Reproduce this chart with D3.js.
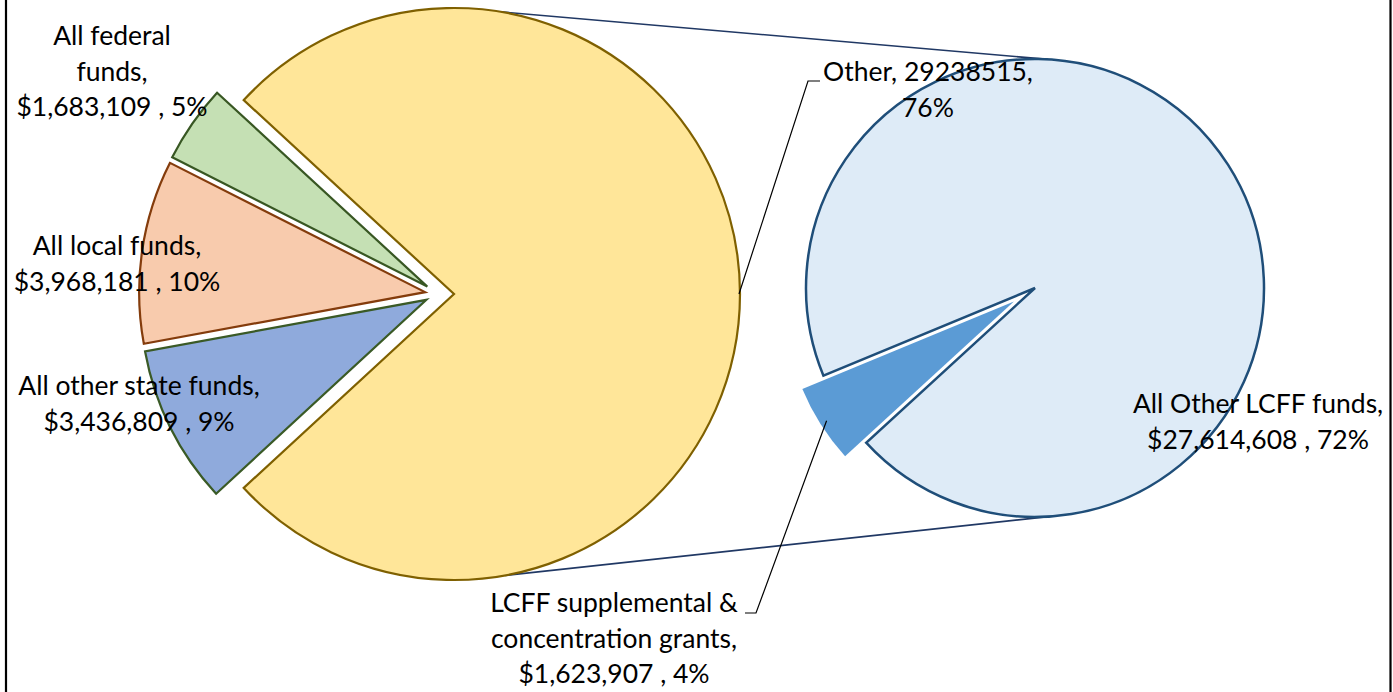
<!DOCTYPE html>
<html>
<head>
<meta charset="utf-8">
<script src="https://cdn.jsdelivr.net/npm/d3@7"></script>
<style>
  html, body { margin: 0; padding: 0; background: #fff; }
  svg { display: block; }
  text { font-family: Lato, "Open Sans", sans-serif; font-size: 26.5px; fill: #000; }
</style>
</head>
<body>
<svg width="1393" height="692"></svg>
<script>
// main pie, clockwise from lower left
var mainNames = ["All other state funds", "All local funds", "All federal funds", "Other"];
var mainValues = [3436809, 3968181, 1683109, 29238515];
var mainPct = ["9%", "10%", "5%", "76%"];
var mainFill = ["#8FAADC", "#F8CBAD", "#C5E0B4", "#FFE699"];
var mainStroke = ["#3A5A26", "#843C0C", "#385723", "#7F6000"];

// second pie (breakdown of "Other")
var subNames = ["LCFF supplemental & concentration grants", "All Other LCFF funds"];
var subValues = [1623907, 27614608];
var subPct = ["4%", "72%"];
var subFill = ["#5B9BD5", "#DEEBF7"];
var subStroke = ["none", "#1F4E79"];

var svg = d3.select("svg");
var fmt = d3.format("$,");
var rad = Math.PI / 180;

function pt(c, a, r) {
    return [c[0] + r * Math.sin(a), c[1] - r * Math.cos(a)];
}

// ---- left pie ----
var C1 = [438, 294], R1 = 286;
var total = d3.sum(mainValues);
var otherFrac = mainValues[3] / total;
var start1 = Math.PI / 2 + otherFrac * Math.PI;
var pie1 = d3.pie().sort(null).startAngle(start1).endAngle(start1 + 2 * Math.PI);
var arcs1 = pie1(mainValues);
var explode1 = [13, 13, 13, 16];
var arc1 = d3.arc().innerRadius(0).outerRadius(R1);

arcs1.forEach(function(d, i) {
    var mid = (d.startAngle + d.endAngle) / 2;
    d.c = pt(C1, mid, explode1[i]);
    d.mid = mid;
});

// ---- right pie ----
var C2 = [1035, 288], R2 = 229;
var start2 = 227.5 * rad;
var pie2 = d3.pie().sort(null).startAngle(start2).endAngle(start2 + 2 * Math.PI);
var arcs2 = pie2(subValues);
var explode2 = [25, 0];
var arc2 = d3.arc().innerRadius(0).outerRadius(R2);
arcs2.forEach(function(d, i) {
    var mid = (d.startAngle + d.endAngle) / 2;
    d.c = pt(C2, mid, explode2[i]);
    d.mid = mid;
});

// connector lines between the pies
var yc = arcs1[3].c;
var conn = [
    [pt(yc, 9.3 * rad, R1), pt(C2, 3.3 * rad, R2)],
    [pt(yc, 169.7 * rad, R1), pt(C2, 176.7 * rad, R2)]
];
svg.selectAll("line.conn").data(conn).enter().append("line")
    .attr("class", "conn")
    .attr("x1", function(d){ return d[0][0]; }).attr("y1", function(d){ return d[0][1]; })
    .attr("x2", function(d){ return d[1][0]; }).attr("y2", function(d){ return d[1][1]; })
    .attr("stroke", "#203864").attr("stroke-width", 1.6);

svg.selectAll("path.s1").data(arcs1).enter().append("path")
    .attr("class", "s1")
    .attr("d", arc1)
    .attr("transform", function(d){ return "translate(" + d.c[0] + "," + d.c[1] + ")"; })
    .attr("fill", function(d, i){ return mainFill[i]; })
    .attr("stroke", function(d, i){ return mainStroke[i]; })
    .attr("stroke-width", 2.2)
    .attr("stroke-linejoin", "miter");

svg.selectAll("path.s2").data(arcs2).enter().append("path")
    .attr("class", "s2")
    .attr("d", arc2)
    .attr("transform", function(d){ return "translate(" + d.c[0] + "," + d.c[1] + ")"; })
    .attr("fill", function(d, i){ return subFill[i]; })
    .attr("stroke", function(d, i){ return subStroke[i]; })
    .attr("stroke-width", 2.5);

// leader lines
var otherAnchor = pt(yc, arcs1[3].mid, R1 - 1);
var lcffAnchor = pt(arcs2[0].c, arcs2[0].mid, R2 * 0.97);
var leaders = [
    [otherAnchor, [808, 81], [820, 81]],
    [lcffAnchor, [756, 613], [745, 613]]
];
svg.selectAll("polyline.lead").data(leaders).enter().append("polyline")
    .attr("class", "lead")
    .attr("points", function(d){ return d.map(function(p){ return p.join(","); }).join(" "); })
    .attr("fill", "none").attr("stroke", "#000").attr("stroke-width", 1.2);

// labels
var labels = [
    { x: 112, y: 45, lines: ["All federal", "funds,", fmt(mainValues[2]) + " , " + mainPct[2]] },
    { x: 117, y: 255, lines: ["All local funds,", fmt(mainValues[1]) + " , " + mainPct[1]] },
    { x: 139, y: 395, lines: ["All other state funds,", fmt(mainValues[0]) + " , " + mainPct[0]] },
    { x: 928, y: 81, lines: ["Other, " + mainValues[3] + ",", mainPct[3]] },
    { x: 1258, y: 413, lines: ["All Other LCFF funds,", fmt(subValues[1]) + " , " + subPct[1]] },
    { x: 614, y: 612, lines: ["LCFF supplemental &", "concentration grants,", fmt(subValues[0]) + " , " + subPct[0]] }
];
var lg = svg.selectAll("text.lbl").data(labels).enter().append("text")
    .attr("class", "lbl")
    .attr("text-anchor", "middle")
    .attr("x", function(d){ return d.x; })
    .attr("y", function(d){ return d.y; });
lg.selectAll("tspan").data(function(d){ return d.lines.map(function(l){ return { t: l, x: d.x }; }); })
    .enter().append("tspan")
    .attr("x", function(d){ return d.x; })
    .attr("dy", function(d, i){ return i === 0 ? 0 : 35.5; })
    .text(function(d){ return d.t; });

// chart frame
svg.append("rect")
    .attr("x", 6).attr("y", -4).attr("width", 1384.5).attr("height", 700)
    .attr("fill", "none").attr("stroke", "#000").attr("stroke-width", 2.2);
</script>
</body>
</html>
